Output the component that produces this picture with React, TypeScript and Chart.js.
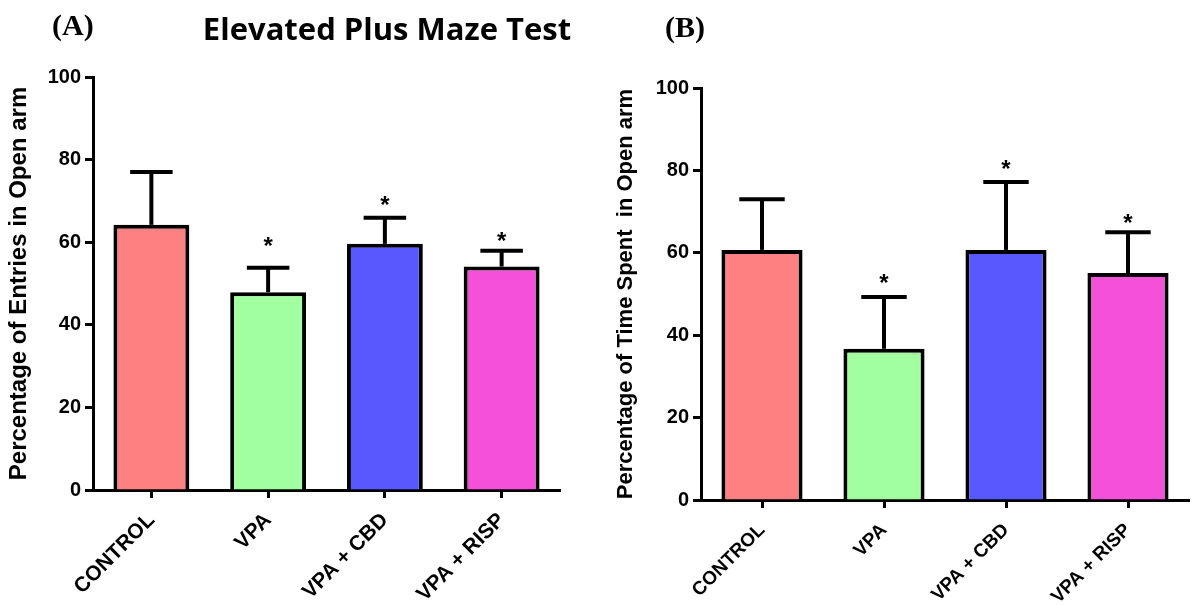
import React, { useEffect, useRef } from "react";
import { Chart, registerables } from "chart.js";

Chart.register(...registerables);

const categories = ["CONTROL", "VPA", "VPA + CBD", "VPA + RISP"];
const barColors = ["#FF8080", "#A2FFA0", "#5858FF", "#F550D8"];

// Panel A: Percentage of Entries in Open arm
const entriesMean = [64.2, 47.9, 59.6, 54.1];
const entriesErr = [12.8, 5.9, 6.3, 3.8];
const entriesSig: (number | null)[] = [null, 60.5, 70.5, 61.7];

// Panel B: Percentage of Time Spent in Open arm
const timeMean = [60.7, 36.7, 60.7, 55.1];
const timeErr = [12.3, 12.6, 16.5, 9.9];
const timeSig: (number | null)[] = [null, 54.1, 81.8, 68.7];

const yMin = 0;
const yMax = 100;
const yStep = 20;

const SANS = "'Liberation Sans', Arial, sans-serif";

type Dims = {
  yWidth: number;
  xHeight: number;
  padTop: number;
  padRight: number;
  titlePad: number;
  titleSize: number;
  barPct: number;
  xLabelSize: number;
  xLabelPad: number;
};

function errorPlugin(errs: number[], sigs: (number | null)[]) {
  return {
    id: "errbars",
    afterDatasetsDraw(chart: any) {
      const ctx = chart.ctx;
      const meta = chart.getDatasetMeta(0);
      const ys = chart.scales.y;
      const values = chart.data.datasets[0].data as number[];
      ctx.save();
      ctx.strokeStyle = "#000";
      ctx.fillStyle = "#000";
      ctx.lineWidth = 4;
      ctx.lineCap = "butt";
      meta.data.forEach((bar: any, i: number) => {
        const x = bar.x;
        const w = bar.width;
        const top = ys.getPixelForValue(values[i]);
        const cap = ys.getPixelForValue(values[i] + errs[i]);
        ctx.beginPath();
        ctx.moveTo(x, top);
        ctx.lineTo(x, cap);
        ctx.stroke();
        ctx.beginPath();
        ctx.moveTo(x - w * 0.28, cap);
        ctx.lineTo(x + w * 0.28, cap);
        ctx.stroke();
        const s = sigs[i];
        if (s !== null && s !== undefined) {
          const sy = ys.getPixelForValue(s);
          ctx.font = `bold 24px ${SANS}`;
          ctx.textAlign = "center";
          ctx.textBaseline = "alphabetic";
          ctx.fillText("*", x, sy + 0.58 * 24);
        }
      });
      ctx.restore();
    },
  };
}

function makeConfig(
  means: number[],
  errs: number[],
  sigs: (number | null)[],
  yTitle: string,
  d: Dims
): any {
  return {
    type: "bar",
    data: {
      labels: categories,
      datasets: [
        {
          data: means,
          backgroundColor: barColors,
          borderColor: "#000",
          borderWidth: 4,
          borderSkipped: "start",
          categoryPercentage: 1,
          barPercentage: d.barPct,
        },
      ],
    },
    options: {
      responsive: false,
      animation: false,
      events: [],
      layout: { padding: { left: 0, top: d.padTop, right: d.padRight, bottom: 0 } },
      plugins: { legend: { display: false }, tooltip: { enabled: false }, title: { display: false } },
      scales: {
        x: {
          offset: true,
          afterFit(scale: any) {
            scale.height = d.xHeight;
          },
          grid: {
            offset: false,
            drawOnChartArea: false,
            drawTicks: true,
            tickLength: 8,
            tickWidth: 3,
            tickColor: "#000",
          },
          border: { display: true, color: "#000", width: 3 },
          ticks: {
            color: "#000",
            font: { family: SANS, size: d.xLabelSize, weight: "bold" },
            minRotation: 45,
            maxRotation: 45,
            padding: d.xLabelPad,
            autoSkip: false,
          },
        },
        y: {
          min: yMin,
          max: yMax,
          afterFit(scale: any) {
            scale.width = d.yWidth;
          },
          grid: {
            drawOnChartArea: false,
            drawTicks: true,
            tickLength: 8,
            tickWidth: 3,
            tickColor: "#000",
          },
          border: { display: true, color: "#000", width: 3 },
          ticks: {
            stepSize: yStep,
            color: "#000",
            font: { family: SANS, size: 20, weight: "bold" },
            padding: 4,
          },
          title: {
            display: true,
            text: yTitle,
            color: "#000",
            font: { family: SANS, size: d.titleSize, weight: "bold" },
            padding: { top: d.titlePad, bottom: 0 },
          },
        },
      },
    },
    plugins: [errorPlugin(errs, sigs)],
  };
}

function Panel(props: {
  left: number;
  width: number;
  means: number[];
  errs: number[];
  sigs: (number | null)[];
  yTitle: string;
  dims: Dims;
}) {
  const ref = useRef<HTMLCanvasElement | null>(null);
  useEffect(() => {
    if (!ref.current) return;
    const chart = new Chart(
      ref.current,
      makeConfig(props.means, props.errs, props.sigs, props.yTitle, props.dims)
    );
    return () => chart.destroy();
  }, []);
  return (
    <canvas
      ref={ref}
      width={props.width}
      height={605}
      style={{ position: "absolute", left: props.left, top: 0, width: props.width, height: 605 }}
    />
  );
}

export default function App() {
  return (
    <div
      style={{
        position: "absolute",
        left: 0,
        top: 0,
        width: 1203,
        height: 605,
        background: "#fff",
        overflow: "hidden",
      }}
    >
      <Panel
        left={0}
        width={600}
        means={entriesMean}
        errs={entriesErr}
        sigs={entriesSig}
        yTitle="Percentage of Entries in Open arm"
        dims={{ yWidth: 93, xHeight: 115, padTop: 77, padRight: 40, titlePad: 5, titleSize: 24, barPct: 0.65, xLabelSize: 21, xLabelPad: 10 }}
      />
      <Panel
        left={600}
        width={603}
        means={timeMean}
        errs={timeErr}
        sigs={timeSig}
        yTitle="Percentage of Time Spent  in Open arm"
        dims={{ yWidth: 101, xHeight: 105, padTop: 88, padRight: 14, titlePad: 13, titleSize: 22, barPct: 0.665, xLabelSize: 19, xLabelPad: 11 }}
      />
      <div
        style={{
          position: "absolute",
          left: 52,
          top: 10,
          font: "bold 30px 'Liberation Serif', 'Times New Roman', serif",
          lineHeight: "30px",
          color: "#000",
          whiteSpace: "pre",
        }}
      >
        (A)
      </div>
      <div
        style={{
          position: "absolute",
          left: 665,
          top: 12,
          font: "bold 30px 'Liberation Serif', 'Times New Roman', serif",
          lineHeight: "30px",
          color: "#000",
          whiteSpace: "pre",
        }}
      >
        (B)
      </div>
      <div
        style={{
          position: "absolute",
          left: 187,
          top: 13,
          width: 400,
          textAlign: "center",
          font: "bold 31px 'Open Sans', sans-serif",
          lineHeight: "31px",
          color: "#000",
          whiteSpace: "pre",
        }}
      >
        Elevated Plus Maze Test
      </div>
    </div>
  );
}
